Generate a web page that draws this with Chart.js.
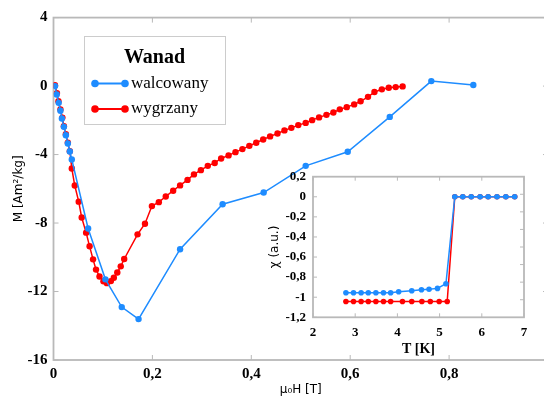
<!DOCTYPE html>
<html>
<head>
<meta charset="utf-8">
<script src="https://cdn.jsdelivr.net/npm/chart.js@4"></script>
<style>
  html, body { margin: 0; padding: 0; overflow: hidden; background: #fff; }
  #wrap { position: relative; width: 544px; height: 397px; overflow: hidden; }
  #main { position: absolute; left: 0; top: 0; }
  #inset { position: absolute; left: 262px; top: 168px; }
</style>
</head>
<body>
<div id="wrap">
  <canvas id="main" width="556" height="397"></canvas>
  <canvas id="inset" width="270" height="190"></canvas>
</div>
<script>
// ---- main plot: M(H) ----
const fieldWalc = [0.003, 0.0065, 0.0105, 0.014, 0.017, 0.021, 0.025, 0.029, 0.033, 0.037,
    0.070, 0.105, 0.138, 0.172, 0.256, 0.342, 0.425, 0.510, 0.595, 0.680, 0.764, 0.849];
const magWalc = [0.0, -0.49, -0.98, -1.44, -1.89, -2.38, -2.87, -3.35, -3.82, -4.29,
    -8.32, -11.29, -12.91, -13.61, -9.53, -6.90, -6.22, -4.66, -3.84, -1.80, 0.29, 0.06];

const fieldWygrz = [0.003, 0.007, 0.010, 0.014, 0.018, 0.021, 0.025, 0.029, 0.033, 0.037,
    0.043, 0.051, 0.057, 0.066, 0.073, 0.080, 0.086, 0.093, 0.101, 0.108,
    0.116, 0.122, 0.129, 0.136, 0.143, 0.170, 0.185, 0.199, 0.213, 0.227,
    0.242, 0.256, 0.271, 0.284, 0.298, 0.312, 0.326, 0.339, 0.354, 0.368,
    0.382, 0.396, 0.410, 0.424, 0.438, 0.453, 0.467, 0.481, 0.495, 0.510,
    0.523, 0.537, 0.552, 0.566, 0.579, 0.593, 0.608, 0.621, 0.636, 0.649,
    0.664, 0.678, 0.692, 0.706];
const magWygrz = [0.05, -0.41, -0.88, -1.37, -1.84, -2.34, -2.81, -3.30, -3.80, -4.81,
    -5.81, -6.75, -7.68, -8.56, -9.36, -10.12, -10.72, -11.12, -11.40, -11.51,
    -11.39, -11.20, -10.89, -10.53, -10.10, -8.66, -8.04, -7.01, -6.78, -6.45,
    -6.11, -5.80, -5.48, -5.16, -4.91, -4.66, -4.49, -4.23, -4.05, -3.86,
    -3.68, -3.49, -3.31, -3.12, -2.94, -2.77, -2.59, -2.44, -2.28, -2.15,
    -1.99, -1.83, -1.68, -1.54, -1.36, -1.23, -1.07, -0.89, -0.63, -0.35,
    -0.19, -0.10, -0.06, -0.02];

const mainXTicks = [0, 0.2, 0.4, 0.6, 0.8, 1.0];
const mainYTicks = [4, 0, -4, -8, -12, -16];

// ---- inset: chi(T) ----
const tempWalc = [2.78, 2.96, 3.14, 3.31, 3.49, 3.67, 3.84, 4.03, 4.34, 4.57, 4.75, 4.95, 5.15,
    5.36, 5.55, 5.75, 5.96, 6.15, 6.36, 6.57, 6.78];
const chiWalc = [-0.955, -0.955, -0.955, -0.955, -0.955, -0.955, -0.955, -0.946, -0.936, -0.926, -0.92, -0.912, -0.866,
    0, 0, 0, 0, 0, 0, 0, 0];
const tempWygrz = [2.78, 2.96, 3.14, 3.31, 3.49, 3.67, 3.84, 4.12, 4.34, 4.58, 4.78, 4.99, 5.18,
    5.36, 5.55, 5.75, 5.96, 6.15, 6.36, 6.57, 6.78];
const chiWygrz = [-1.042, -1.042, -1.042, -1.042, -1.042, -1.042, -1.042, -1.042, -1.042, -1.042, -1.042, -1.042, -1.042,
    0, 0, 0, 0, 0, 0, 0, 0];

const insetXTicks = [2, 3, 4, 5, 6, 7];
const insetYTicks = [0.2, 0, -0.2, -0.4, -0.6, -0.8, -1, -1.2];
const insetRightTicks = [1, 2, 3, 4, 5, 6, 7];

const BLUE = '#1e8cff';
const RED = '#ff0000';
const FRAME = '#b9b9b9';

function toPoints(xs, ys) {
    return xs.map((x, i) => ({ x: x, y: ys[i] }));
}

function commaLabel(v) {
    const r = Math.round(v * 10) / 10;
    return (r === 0 ? '0' : String(r)).replace('.', ',');
}

function fixedTicks(list) {
    return function(scale) {
        scale.ticks = list.map(v => ({ value: v }));
    };
}

function fixedSize(size) {
    return function(scale) {
        if (scale.isHorizontal()) scale.height = size; else scale.width = size;
        scale.paddingTop = 0; scale.paddingBottom = 0;
        scale.paddingLeft = 0; scale.paddingRight = 0;
    };
}

// box around the plot with inward tick marks
const framePlugin = {
    id: 'frame',
    beforeDatasetsDraw(chart, args, opts) {
        const { ctx, chartArea: a, scales } = chart;
        const len = opts.tickLen;
        ctx.save();
        ctx.strokeStyle = opts.color;
        ctx.lineWidth = opts.width;
        ctx.strokeRect(a.left, a.top, a.right - a.left, a.bottom - a.top);
        ctx.lineWidth = 1;
        ctx.beginPath();
        scales.x.ticks.forEach(t => {
            const px = scales.x.getPixelForValue(t.value);
            ctx.moveTo(px, a.bottom); ctx.lineTo(px, a.bottom - len);
            ctx.moveTo(px, a.top); ctx.lineTo(px, a.top + len);
        });
        scales.y.ticks.forEach(t => {
            const py = scales.y.getPixelForValue(t.value);
            ctx.moveTo(a.left, py); ctx.lineTo(a.left + len, py);
        });
        const rs = scales[opts.rightAxis];
        rs.ticks.forEach(t => {
            const py = rs.getPixelForValue(t.value);
            ctx.moveTo(a.right, py); ctx.lineTo(a.right - len, py);
        });
        ctx.stroke();
        ctx.restore();
    }
};

// legend: title + line with two dots for each dataset
const boxLegend = {
    id: 'boxLegend',
    afterDraw(chart, args, opts) {
        const ctx = chart.ctx;
        ctx.save();
        ctx.fillStyle = '#fff';
        ctx.strokeStyle = '#cccccc';
        ctx.lineWidth = 1;
        ctx.fillRect(opts.x, opts.y, opts.w, opts.h);
        ctx.strokeRect(opts.x + 0.5, opts.y + 0.5, opts.w, opts.h);
        ctx.fillStyle = '#000';
        ctx.textAlign = 'center';
        ctx.textBaseline = 'middle';
        ctx.font = 'bold 20px "Liberation Serif"';
        ctx.fillText(opts.title, opts.x + opts.w / 2, opts.y + 21.5);
        chart.data.datasets.forEach((ds, i) => {
            const y = opts.y + 47.5 + i * 25.5;
            const x0 = opts.x + 11, x1 = opts.x + 41;
            ctx.strokeStyle = ds.borderColor;
            ctx.lineWidth = 2;
            ctx.beginPath(); ctx.moveTo(x0, y); ctx.lineTo(x1, y); ctx.stroke();
            ctx.fillStyle = ds.borderColor;
            [x0, x1].forEach(px => { ctx.beginPath(); ctx.arc(px, y, 3.8, 0, Math.PI * 2); ctx.fill(); });
            ctx.fillStyle = '#000';
            ctx.textAlign = 'left';
            ctx.font = '17px "Liberation Serif"';
            ctx.fillText(ds.label, opts.x + 47, y);
        });
        ctx.restore();
    }
};

Chart.defaults.color = '#000';

new Chart(document.getElementById('main'), {
    type: 'line',
    data: {
        datasets: [{
            label: 'walcowany',
            data: toPoints(fieldWalc, magWalc),
            borderColor: BLUE,
            backgroundColor: BLUE,
            borderWidth: 1.5,
            pointRadius: 3.2,
            pointBorderWidth: 0,
            tension: 0
        }, {
            label: 'wygrzany',
            data: toPoints(fieldWygrz, magWygrz),
            borderColor: RED,
            backgroundColor: RED,
            borderWidth: 1.5,
            pointRadius: 3.2,
            pointBorderWidth: 0,
            tension: 0
        }]
    },
    options: {
        responsive: false,
        animation: false,
        devicePixelRatio: 1,
        layout: { padding: { top: 17.6, right: 8, left: 0, bottom: 0 } },
        scales: {
            x: {
                type: 'linear',
                min: 0,
                max: 1,
                afterBuildTicks: fixedTicks(mainXTicks),
                afterFit: fixedSize(37),
                grid: { display: false, drawTicks: false },
                border: { display: false },
                ticks: {
                    padding: 5,
                    font: { family: 'Liberation Serif', weight: 'bold', size: 15 },
                    callback: v => commaLabel(v)
                },
                title: {
                    display: true,
                    text: 'μ₀H [T]',
                    padding: { top: 3, bottom: 0 },
                    font: { family: 'DejaVu Sans', size: 12 }
                }
            },
            y: {
                type: 'linear',
                min: -16,
                max: 4,
                afterBuildTicks: fixedTicks(mainYTicks),
                afterFit: fixedSize(53.5),
                grid: { display: false, drawTicks: false },
                border: { display: false },
                ticks: {
                    padding: 6,
                    font: { family: 'Liberation Serif', weight: 'bold', size: 15 },
                    callback: v => commaLabel(v)
                },
                title: {
                    display: true,
                    text: 'M [Am²/kg]',
                    padding: { top: 12, bottom: 0 },
                    font: { family: 'DejaVu Sans', size: 12 }
                }
            }
        },
        plugins: {
            legend: { display: false },
            tooltip: { enabled: false },
            frame: { color: FRAME, width: 1.8, tickLen: 5, rightAxis: 'y' },
            boxLegend: { x: 84, y: 36, w: 141, h: 88, title: 'Wanad' }
        }
    },
    plugins: [framePlugin, boxLegend]
});

new Chart(document.getElementById('inset'), {
    type: 'line',
    data: {
        datasets: [{
            label: 'walcowany',
            data: toPoints(tempWalc, chiWalc),
            borderColor: BLUE,
            backgroundColor: BLUE,
            borderWidth: 1.5,
            pointRadius: 2.8,
            pointBorderWidth: 0,
            tension: 0
        }, {
            label: 'wygrzany',
            data: toPoints(tempWygrz, chiWygrz),
            borderColor: RED,
            backgroundColor: RED,
            borderWidth: 1.5,
            pointRadius: 2.8,
            pointBorderWidth: 0,
            tension: 0
        }]
    },
    options: {
        responsive: false,
        animation: false,
        devicePixelRatio: 1,
        layout: { padding: { top: 8.7, right: 8, left: 0, bottom: 0 } },
        scales: {
            x: {
                type: 'linear',
                min: 2,
                max: 7,
                afterBuildTicks: fixedTicks(insetXTicks),
                afterFit: fixedSize(40.7),
                grid: { display: false, drawTicks: false },
                border: { display: false },
                ticks: {
                    padding: 8,
                    font: { family: 'Liberation Serif', weight: 'bold', size: 13 },
                    callback: v => commaLabel(v)
                },
                title: {
                    display: true,
                    text: 'T [K]',
                    padding: { top: 3, bottom: 0 },
                    font: { family: 'Liberation Serif', weight: 'bold', size: 14 }
                }
            },
            y: {
                type: 'linear',
                min: -1.2,
                max: 0.2,
                afterBuildTicks: fixedTicks(insetYTicks),
                afterFit: fixedSize(51),
                grid: { display: false, drawTicks: false },
                border: { display: false },
                ticks: {
                    padding: 7,
                    font: { family: 'Liberation Serif', weight: 'bold', size: 13 },
                    callback: v => commaLabel(v)
                },
                title: {
                    display: true,
                    text: 'χ (a.u.)',
                    padding: { top: 6, bottom: 0 },
                    font: { family: 'DejaVu Sans', size: 12 }
                }
            },
            y2: {
                type: 'linear',
                position: 'right',
                display: false,
                min: 0,
                max: 8,
                afterBuildTicks: fixedTicks(insetRightTicks)
            }
        },
        plugins: {
            legend: { display: false },
            tooltip: { enabled: false },
            frame: { color: FRAME, width: 1.8, tickLen: 4, rightAxis: 'y2' }
        }
    },
    plugins: [framePlugin]
});
</script>
</body>
</html>
